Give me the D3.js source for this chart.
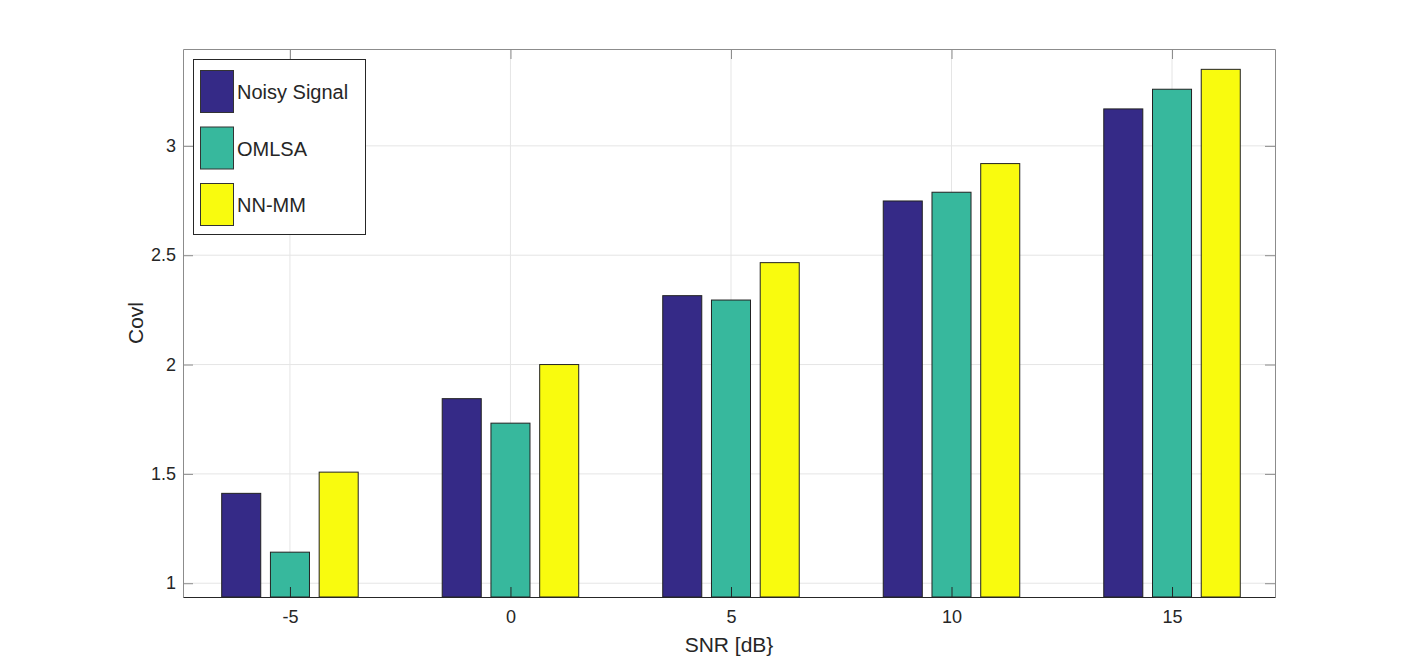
<!DOCTYPE html>
<html>
<head>
<meta charset="utf-8">
<script src="https://cdn.jsdelivr.net/npm/d3@7"></script>
<style>
  body { margin: 0; background: #fff; }
  text { font-family: "Liberation Sans", Arial, sans-serif; fill: #262626; }
</style>
</head>
<body>
<svg id="chart" width="1410" height="671"></svg>
<script>
// data
const categories = ["-5", "0", "5", "10", "15"];
const seriesNames = ["Noisy Signal", "OMLSA", "NN-MM"];
const noisySignal = [1.411, 1.844, 2.315, 2.748, 3.169];
const omlsa = [1.142, 1.732, 2.295, 2.788, 3.259];
const nnmm = [1.508, 2.0, 2.466, 2.919, 3.35];
const yTicks = [1, 1.5, 2, 2.5, 3];
const colors = ["#352a87", "#37b89d", "#f9fb0e"];

const seriesValues = [noisySignal, omlsa, nnmm];

const svg = d3.select("#chart");
const plotLeft = 183, plotRight = 1275, plotTop = 49, plotBottom = 597;

// x as category index, y linear
const x = d3.scaleLinear().domain([-0.485, 4.467]).range([plotLeft, plotRight]);
const y = d3.scaleLinear().domain([0.937, 3.443]).range([plotBottom, plotTop]);

const barW = 0.177;   // in category units
const barStep = 0.221;

// grid
const grid = svg.append("g").attr("class", "grid");
grid.selectAll(".gy")
  .data(yTicks)
  .enter()
  .append("line")
  .attr("x1", plotLeft).attr("x2", plotRight)
  .attr("y1", function (d) { return y(d); })
  .attr("y2", function (d) { return y(d); })
  .attr("stroke", "#e5e5e5")
  .attr("stroke-width", 1);
grid.selectAll(".gx")
  .data(categories)
  .enter()
  .append("line")
  .attr("x1", function (d, i) { return x(i); })
  .attr("x2", function (d, i) { return x(i); })
  .attr("y1", plotTop).attr("y2", plotBottom)
  .attr("stroke", "#e5e5e5")
  .attr("stroke-width", 1);

// bars
const bars = svg.append("g").attr("class", "bars");
seriesValues.forEach(function (vals, s) {
  bars.selectAll(".bar" + s)
    .data(vals)
    .enter()
    .append("rect")
    .attr("x", function (d, i) { return x(i + (s - 1) * barStep - barW / 2); })
    .attr("width", x(barW) - x(0))
    .attr("y", function (d) { return y(d); })
    .attr("height", function (d) { return plotBottom - y(d); })
    .attr("fill", colors[s])
    .attr("stroke", "#222")
    .attr("stroke-width", 1);
});

// axes with inward ticks on all four sides
const xAxisB = d3.axisBottom(x)
  .tickValues(d3.range(categories.length))
  .tickFormat(function (d) { return categories[d]; })
  .tickSizeInner(-10).tickSizeOuter(0).tickPadding(13);
const xAxisT = d3.axisTop(x)
  .tickValues(d3.range(categories.length))
  .tickFormat("")
  .tickSizeInner(-10).tickSizeOuter(0);
const yAxisL = d3.axisLeft(y)
  .tickValues(yTicks)
  .tickFormat(d3.format(""))
  .tickSizeInner(-10).tickSizeOuter(0).tickPadding(7);
const yAxisR = d3.axisRight(y)
  .tickValues(yTicks)
  .tickFormat("")
  .tickSizeInner(-10).tickSizeOuter(0);

function styleAxis(lineColor) {
  return function (g) {
    g.select(".domain").attr("stroke", lineColor);
    g.selectAll(".tick line").attr("stroke", lineColor);
    g.selectAll(".tick text")
      .style("font-family", "Liberation Sans, Arial, sans-serif")
      .style("font-size", "18px")
      .attr("fill", "#262626");
  };
}

svg.append("g").attr("transform", "translate(0," + plotTop + ")").call(xAxisT).call(styleAxis("#8c8c8c"));
svg.append("g").attr("transform", "translate(" + plotLeft + ",0)").call(yAxisL).call(styleAxis("#8c8c8c"));
svg.append("g").attr("transform", "translate(" + plotRight + ",0)").call(yAxisR).call(styleAxis("#8c8c8c"));
svg.append("g").attr("transform", "translate(0," + plotBottom + ")").call(xAxisB).call(styleAxis("#262626"));

// axis labels
svg.append("text")
  .attr("x", (plotLeft + plotRight) / 2)
  .attr("y", 652)
  .attr("text-anchor", "middle")
  .style("font-size", "21px")
  .text("SNR [dB}");

svg.append("text")
  .attr("transform", "translate(143," + (plotTop + plotBottom) / 2 + ") rotate(-90)")
  .attr("text-anchor", "middle")
  .style("font-size", "21px")
  .text("Covl");

// legend
const legend = svg.append("g").attr("class", "legend");
legend.append("rect")
  .attr("x", 193.5).attr("y", 59.5)
  .attr("width", 172).attr("height", 175)
  .attr("fill", "#fff")
  .attr("stroke", "#262626");

const items = legend.selectAll(".item")
  .data(seriesNames)
  .enter()
  .append("g")
  .attr("transform", function (d, i) { return "translate(0," + (70 + i * 56.5) + ")"; });

items.append("rect")
  .attr("x", 200.5).attr("y", 0.5)
  .attr("width", 33).attr("height", 42)
  .attr("fill", function (d, i) { return colors[i]; })
  .attr("stroke", "#333");

items.append("text")
  .attr("x", 237)
  .attr("y", 29)
  .style("font-size", "20px")
  .attr("fill", "#000")
  .text(function (d) { return d; });
</script>
</body>
</html>
